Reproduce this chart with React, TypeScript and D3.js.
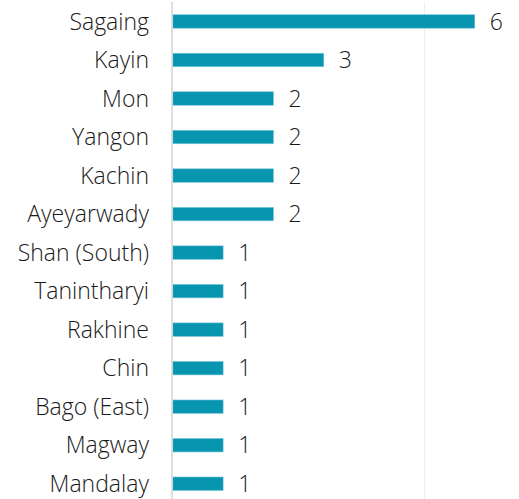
import React from "react";
import * as d3 from "d3";

const categories = ["Sagaing", "Kayin", "Mon", "Yangon", "Kachin", "Ayeyarwady", "Shan (South)", "Tanintharyi", "Rakhine", "Chin", "Bago (East)", "Magway", "Mandalay"];
const values = [6, 3, 2, 2, 2, 2, 1, 1, 1, 1, 1, 1, 1];
const gridTicks = [0, 5];

const W = 519, H = 499;

export default function App() {
  const x = d3.scaleLinear().domain([0, 6]).range([172.8, 474.8]);
  const y = d3.scaleBand<string>().domain(categories).range([2.2, 503]).paddingInner(0.65).paddingOuter(0.325);
  const bw = y.bandwidth();
  return (
    <svg width={W} height={H} style={{ position: "absolute", left: 0, top: 0, background: "#fff" }}
      fontFamily="'Open Sans', sans-serif" fontWeight={300}>
      {gridTicks.filter(t => t > 0).map(t => (
        <line key={t} x1={x(t)} x2={x(t)} y1={2} y2={H} stroke="#efefef" strokeWidth={1.2} />
      ))}
      {categories.map((c, i) => (
        <g key={c}>
          <rect x={x(0)} y={y(c)!} width={x(values[i]) - x(0)} height={bw} fill="#0795B0" stroke="#7cc6d6" strokeWidth={0.6} />
          <text x={149} y={y(c)! + bw / 2} dy="0.36em" textAnchor="end" fontSize={23} fill="#1a1a1a">{c}</text>
          <text x={x(values[i]) + 15} y={y(c)! + bw / 2} dy="0.36em" textAnchor="start" fontSize={23} fill="#1a1a1a">{values[i]}</text>
        </g>
      ))}
      <line x1={x(0) - 0.8} x2={x(0) - 0.8} y1={2} y2={H} stroke="#d6d6d6" strokeWidth={1.6} />
    </svg>
  );
}
